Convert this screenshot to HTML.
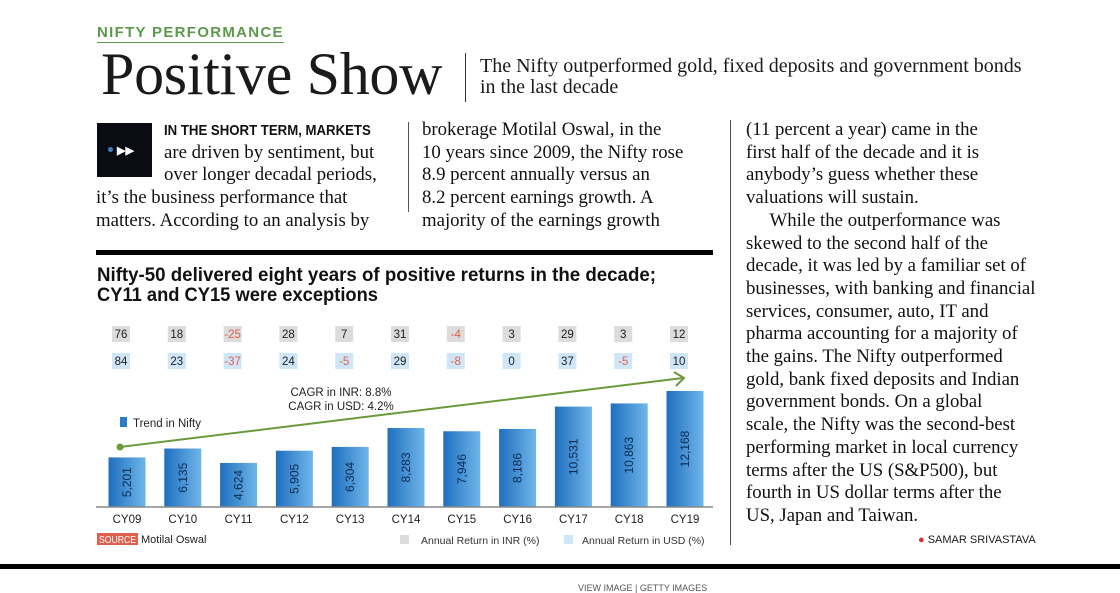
<!DOCTYPE html>
<html><head><meta charset="utf-8"><style>
body{margin:0;width:1120px;height:589px;background:#fff;position:relative;overflow:hidden;font-family:"Liberation Serif",serif;color:#1a1a1a}
.a{position:absolute;white-space:nowrap}
.body{font-size:18.8px;line-height:22.7px;color:#111}
</style></head><body>
<div class="a" style="left:97px;top:24px;font:bold 15px 'Liberation Sans',sans-serif;letter-spacing:1.3px;color:#5b9a4b;border-bottom:1.5px solid #5b9a4b;line-height:18px">NIFTY PERFORMANCE</div>
<div class="a" style="left:101px;top:42px;font-size:60px;line-height:64px;letter-spacing:-0.3px">Positive Show</div>
<div class="a" style="left:465px;top:53px;width:1px;height:49px;background:#333"></div>
<div class="a" style="left:480px;top:56px;font-size:20px;line-height:21px">The Nifty outperformed gold, fixed deposits and government bonds<br>in the last decade</div>

<div class="a" style="left:97px;top:123px;width:55px;height:54px;background:#0b0b14"><div style="position:absolute;left:11px;top:24px;width:5px;height:5px;border-radius:50%;background:#3b7fc4"></div><div style="position:absolute;left:20px;top:21px;color:#fff;font:bold 11px 'Liberation Sans',sans-serif">▶▶</div></div>
<div class="a body" style="left:96px;top:119px">
<div style="padding-left:68px"><b style="font:bold 15px 'Liberation Sans',sans-serif;display:inline-block;transform:scaleX(0.88);transform-origin:left">IN THE SHORT TERM, MARKETS</b></div>
<div style="padding-left:68px">are driven by sentiment, but</div>
<div style="padding-left:68px">over longer decadal periods,</div>
<div>it’s the business performance that</div>
<div>matters. According to an analysis by</div></div>
<div class="a" style="left:408px;top:122px;width:1px;height:90px;background:#555"></div>
<div class="a body" style="left:422px;top:119px">brokerage Motilal Oswal, in the<br>10 years since 2009, the Nifty rose<br>8.9 percent annually versus an<br>8.2 percent earnings growth. A<br>majority of the earnings growth</div>
<div class="a" style="left:730px;top:120px;width:1px;height:425px;background:#555"></div>
<div class="a body" style="left:746px;top:119px">(11 percent a year) came in the<br>first half of the decade and it is<br>anybody’s guess whether these<br>valuations will sustain.<br>&nbsp;&nbsp;&nbsp;&nbsp;&nbsp;While the outperformance was<br>skewed to the second half of the<br>decade, it was led by a familiar set of<br>businesses, with banking and financial<br>services, consumer, auto, IT and<br>pharma accounting for a majority of<br>the gains. The Nifty outperformed<br>gold, bank fixed deposits and Indian<br>government bonds. On a global<br>scale, the Nifty was the second-best<br>performing market in local currency<br>terms after the US (S&amp;P500), but<br>fourth in US dollar terms after the<br>US, Japan and Taiwan.</div>
<div class="a" style="left:918px;top:534px;font:11px 'Liberation Sans',sans-serif"><span style="color:#d33">●</span> SAMAR SRIVASTAVA</div>
<div class="a" style="left:0;top:564px;width:1120px;height:5px;background:#000"></div>
<div class="a" style="left:578px;top:583px;font:9px 'Liberation Sans',sans-serif;color:#555">VIEW IMAGE | GETTY IMAGES</div>

<svg class="a" style="left:0;top:0" width="1120" height="589" id="chart"></svg>
<script>
const categories=["CY09","CY10","CY11","CY12","CY13","CY14","CY15","CY16","CY17","CY18","CY19"];
const niftyValues=[5201,6135,4624,5905,6304,8283,7946,8186,10531,10863,12168];
const niftyLabels=["5,201","6,135","4,624","5,905","6,304","8,283","7,946","8,186","10,531","10,863","12,168"];
const inrReturns=[76,18,-25,28,7,31,-4,3,29,3,12];
const usdReturns=[84,23,-37,24,-5,29,-8,0,37,-5,10];
const cagrInr=8.8, cagrUsd=4.2;
const svg=document.getElementById('chart');const NS='http://www.w3.org/2000/svg';
const F='Liberation Sans, sans-serif';
function mk(t,a,p){const e=document.createElementNS(NS,t);for(const k in a)e.setAttribute(k,a[k]);(p||svg).appendChild(e);return e;}
const x0=127,step=55.8,base=507,k=116/12168,bw=37;
function xc(i){return x0+i*step;}
function yv(v){return base-v*k;}
const defs=mk('defs',{});
const g=mk('linearGradient',{id:'bg',x1:0,x2:1,y1:0,y2:0},defs);
mk('stop',{offset:'0','stop-color':'#1f6fbf'},g);mk('stop',{offset:'1','stop-color':'#6fb6ea'},g);
let e=mk('rect',{x:96,y:250,width:617,height:5,fill:'#000'});


e=mk('text',{x:97,y:281,'font-family':F,'font-weight':'bold','font-size':19,fill:'#111',textLength:559,lengthAdjust:'spacingAndGlyphs'});e.textContent='Nifty-50 delivered eight years of positive returns in the decade;';


e=mk('text',{x:97,y:301,'font-family':F,'font-weight':'bold','font-size':19,fill:'#111',textLength:281,lengthAdjust:'spacingAndGlyphs'});e.textContent='CY11 and CY15 were exceptions';


categories.forEach((c,i)=>{
  const x=xc(i),v=niftyValues[i];
  const b=mk('rect',{x:x-bw/2,y:yv(v),width:bw,height:base-yv(v),fill:'url(#bg)'});
  
  
  const t=mk('text',{x:0,y:0,'font-family':F,'font-size':12,fill:'#0d2a4a','text-anchor':'middle',transform:`translate(${x+4},${(yv(v)+base)/2}) rotate(-90)`});t.textContent=niftyLabels[i];
  
  
  const l=mk('text',{x:x,y:523,'font-family':F,'font-size':11.5,fill:'#222','text-anchor':'middle'});l.textContent=c;
  
  
  [[inrReturns[i],334,'#dcdcdc','inr-return'],[usdReturns[i],361,'#cfe6f7','usd-return']].forEach(([val,y,bgc,nm])=>{
    const r=mk('rect',{x:x-9-6,y:y-8,width:18,height:16,fill:bgc});
    
    
    const tt=mk('text',{x:x-6,y:y+4,'font-family':F,'font-size':11.5,fill:val<0?'#e0604e':'#222','text-anchor':'middle'});tt.textContent=val;
    
    
  });
});
e=mk('line',{x1:96,y1:base,x2:713,y2:base,stroke:'#888','stroke-width':1.5});


e=mk('line',{x1:120,y1:447,x2:683,y2:378,stroke:'#6a9a3c','stroke-width':2});


e=mk('polyline',{points:'674,372 684,378 676,386',fill:'none',stroke:'#6a9a3c','stroke-width':2});


e=mk('circle',{cx:120,cy:447,r:3.5,fill:'#6a9a3c'});


e=mk('text',{x:341,y:396,'font-family':F,'font-size':11.5,fill:'#222','text-anchor':'middle'});e.textContent='CAGR in INR: '+cagrInr+'%';


e=mk('text',{x:341,y:410,'font-family':F,'font-size':11.5,fill:'#222','text-anchor':'middle'});e.textContent='CAGR in USD: '+cagrUsd+'%';


e=mk('rect',{x:120,y:417,width:7,height:10,fill:'#2a7bc8'});


e=mk('text',{x:133,y:427,'font-family':F,'font-size':11.5,fill:'#222'});e.textContent='Trend in Nifty';


e=mk('rect',{x:97,y:533,width:41,height:12,fill:'#e0604e'});


e=mk('text',{x:99,y:543,'font-family':F,'font-size':10,fill:'#fff',textLength:37,lengthAdjust:'spacingAndGlyphs'});e.textContent='SOURCE';


e=mk('text',{x:141,y:543,'font-family':F,'font-size':11,fill:'#222'});e.textContent='Motilal Oswal';


e=mk('rect',{x:400,y:535,width:9,height:9,fill:'#dcdcdc'});


e=mk('text',{x:421,y:544,'font-family':F,'font-size':10.5,fill:'#333'});e.textContent='Annual Return in INR (%)';


e=mk('rect',{x:564,y:535,width:9,height:9,fill:'#cfe6f7'});


e=mk('text',{x:582,y:544,'font-family':F,'font-size':10.5,fill:'#333'});e.textContent='Annual Return in USD (%)';


</script>
</body></html>
